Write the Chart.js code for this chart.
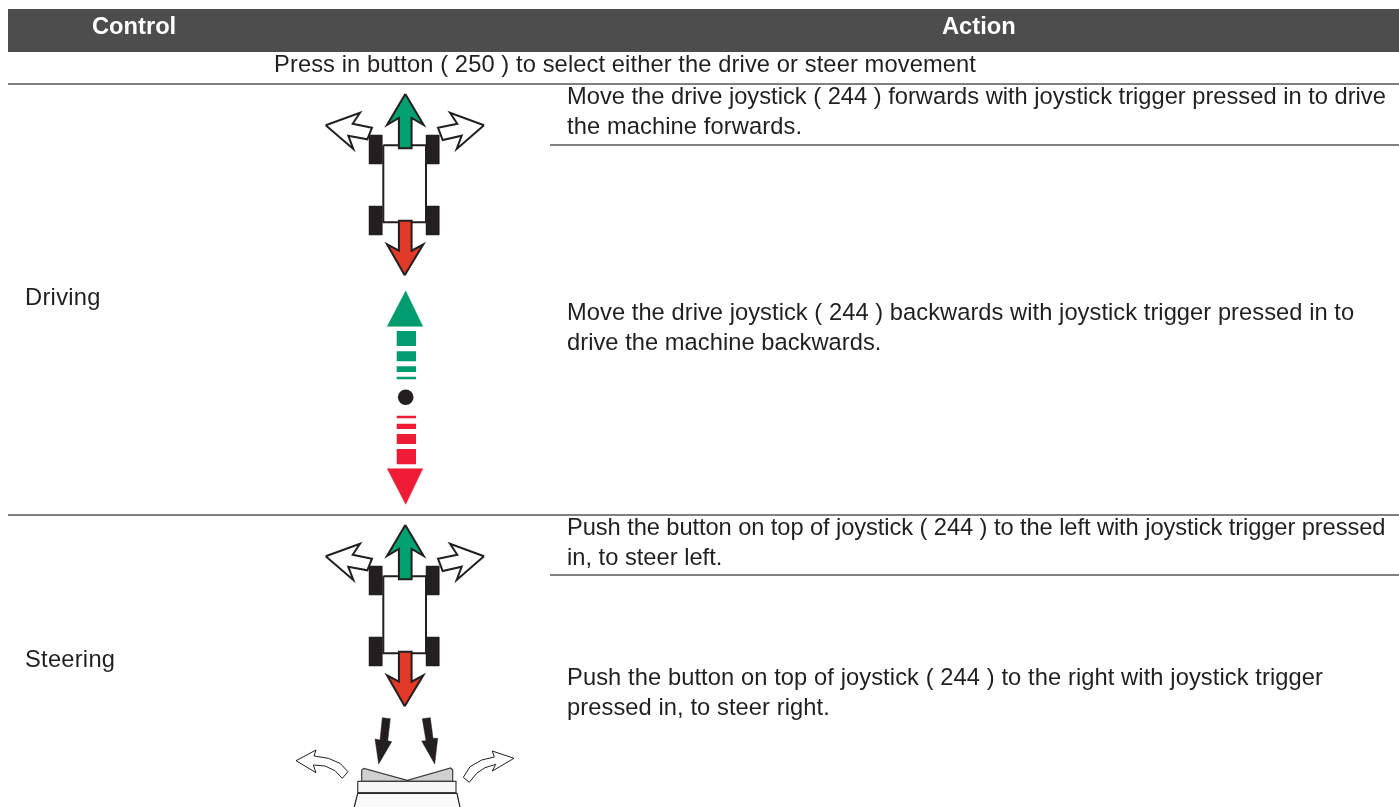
<!DOCTYPE html>
<html>
<head>
<meta charset="utf-8">
<script src="https://cdn.jsdelivr.net/npm/chart.js@4"></script>
<style>
  html, body { margin: 0; padding: 0; background: #fff; overflow: hidden; }
  #page { position: relative; width: 1399px; height: 807px; font-family: "Liberation Sans", Arial, sans-serif; font-size: 23.7px; color: #231f20; }
  #sheet { position: absolute; left: 0; top: 0; }
  .t { position: absolute; white-space: pre; line-height: 30px; }
  .band { position: absolute; left: 8px; top: 9px; width: 1391px; height: 43px; background: #4d4d4d; }
  .head { color: #fff; font-weight: bold; top: 11px; line-height: 30px; }
  .rule { position: absolute; height: 2px; background: #808080; right: 0; }
</style>
</head>
<body>
<div id="page">
  <div class="band"></div>
  <div class="rule" style="left:8px;top:83px"></div>
  <div class="rule" style="left:550px;top:144px"></div>
  <div class="rule" style="left:8px;top:514px"></div>
  <div class="rule" style="left:550px;top:574px"></div>
  <canvas id="sheet" width="1399" height="807"></canvas>
  <div class="t head" style="left:92px">Control</div>
  <div class="t head" style="left:942px">Action</div>
  <div class="t" style="left:274px;top:49px;letter-spacing:.1px">Press in button ( 250 ) to select either the drive or steer movement</div>
  <div class="t" style="left:567px;top:81px">Move the drive joystick ( 244 ) forwards with joystick trigger pressed in to drive</div>
  <div class="t" style="left:567px;top:111px;letter-spacing:.1px">the machine forwards.</div>
  <div class="t" style="left:25px;top:282px;letter-spacing:.3px">Driving</div>
  <div class="t" style="left:567px;top:297px;letter-spacing:.05px">Move the drive joystick ( 244 ) backwards with joystick trigger pressed in to</div>
  <div class="t" style="left:567px;top:327px;letter-spacing:.04px">drive the machine backwards.</div>
  <div class="t" style="left:567px;top:512px;letter-spacing:-.085px">Push the button on top of joystick ( 244 ) to the left with joystick trigger pressed</div>
  <div class="t" style="left:567px;top:542px">in, to steer left.</div>
  <div class="t" style="left:25px;top:644px;letter-spacing:.25px">Steering</div>
  <div class="t" style="left:567px;top:662px;letter-spacing:.09px">Push the button on top of joystick ( 244 ) to the right with joystick trigger</div>
  <div class="t" style="left:567px;top:692px;letter-spacing:.08px">pressed in, to steer right.</div>
</div>
<script>
// machine icon outlines, in page units
const arrowForward = [[405.3,94],[423.7,125],[411.6,118],[411.6,148.3],[398.9,148.3],[398.9,118],[387,125]];
const arrowBack = [[404.7,275.3],[387,244.3],[398.9,250.7],[398.9,220.7],[411.6,220.7],[411.6,250.7],[423.3,244.3]];
const arrowLeft = [[325.7,125.3],[360,112.7],[352.7,123.7],[372,127.7],[367.3,139.3],[348.3,135.7],[353.3,149]];
const arrowRight = [[484,125.3],[450,112.7],[457.3,123.7],[438,127.7],[442.7,140],[461.7,135.7],[456.7,149]];
const body = [[383.3,145.3],[426,145.3],[426,222.3],[383.3,222.3]];
const wheels = [
  [[369,135],[382,135],[382,164],[369,164]],
  [[426,135],[439,135],[439,164],[426,164]],
  [[369,206],[382,206],[382,235],[369,235]],
  [[426,206],[439,206],[439,235],[426,235]]
];

// drive indicator
const triangleUp = [[405.7,291],[422.7,326.3],[387.3,326.3]];
const triangleDown = [[405.7,504.3],[387.3,468.7],[422.7,468.7]];
const greenBars = [[331,346],[351.3,361.3],[366.3,372],[376.7,379.3]];
const redBars = [[415.7,418.3],[423.7,429],[434,444],[449,464.3]];
const dot = [[405.7,397.3]];

// rocker button
const pressLeft = [[382.3,717.7],[390.3,718.7],[387.7,740.7],[391.7,741.7],[378.7,764],[375,739],[380,740]];
const pressRight = [[422.3,718.7],[430.3,717.7],[433,738.3],[437.7,738.3],[434.7,764],[421.7,741],[426,740.7]];
const rockerTop = [[361.7,770],[364,768.3],[407.3,780.3],[450.7,768],[452.7,770],[452.7,781.3],[361.7,781.3]];
const rockerBand = [[357.7,781.3],[456,781.3],[456,792.7],[357.7,792.7]];
const rockerBase = [[357.7,793.3],[457,793.3],[461,812],[353,812]];
const tiltLeft = [[296,760.7],[316,750],[314,756],[328.3,758.3],[340,763.3],[348,771.7],[342.3,778.3],[335,770.7],[325,766],[313.3,765],[316,772.7]];
const tiltRight = [[514,758.3],[492.3,751],[494.3,757],[481.7,760],[470,766.7],[463.3,777.3],[469.3,782.3],[476.7,773.3],[485,767.7],[495.7,764.3],[492.3,771]];

const GREEN = "#00a06f";
const RED = "#e23a28";
const IND_GREEN = "#009b6e";
const IND_RED = "#ee1c34";
const INK = "#231f20";

const datasets = [];

function toPoints(shape, dy) {
  const pts = shape.map(p => ({ x: p[0], y: p[1] + dy }));
  pts.push(pts[0]);
  return pts;
}

function addShape(shape, fill, stroke, width, dy) {
  datasets.push({
    data: toPoints(shape, dy || 0),
    showLine: true,
    tension: 0,
    pointRadius: 0,
    fill: "shape",
    backgroundColor: fill,
    borderColor: stroke,
    borderWidth: width,
    borderJoinStyle: "miter"
  });
}

function addMachine(dy) {
  addShape(arrowLeft, "#fff", INK, 2, dy);
  addShape(arrowRight, "#fff", INK, 2, dy);
  wheels.forEach(w => addShape(w, INK, INK, 0.5, dy));
  addShape(body, "#fff", INK, 2, dy);
  addShape(arrowForward, GREEN, INK, 2, dy);
  addShape(arrowBack, RED, INK, 2, dy);
}

addMachine(0);
addMachine(431);

addShape(triangleUp, IND_GREEN, IND_GREEN, 0.5);
addShape(triangleDown, IND_RED, IND_RED, 0.5);
greenBars.forEach(b => addShape([[396.7,b[0]],[416,b[0]],[416,b[1]],[396.7,b[1]]], IND_GREEN, IND_GREEN, 0));
redBars.forEach(b => addShape([[396.7,b[0]],[416,b[0]],[416,b[1]],[396.7,b[1]]], IND_RED, IND_RED, 0));
datasets.push({
  data: dot.map(p => ({ x: p[0], y: p[1] })),
  pointRadius: 7.8,
  pointBackgroundColor: INK,
  pointBorderWidth: 0
});

addShape(pressLeft, INK, INK, 0.5);
addShape(pressRight, INK, INK, 0.5);
addShape(tiltLeft, "#fff", INK, 1);
addShape(tiltRight, "#fff", INK, 1);
addShape(rockerBase, "#fbfbfb", INK, 1.2);
addShape(rockerTop, "#d0d0d0", "#3c3c3c", 1.2);
addShape(rockerBand, "#f6f6f6", "#3c3c3c", 1.2);

// later shapes sit on top, chart.js paints the lowest order last
datasets.forEach((d, i) => { d.order = datasets.length - i; });

new Chart(document.getElementById("sheet"), {
  type: "scatter",
  data: { datasets },
  options: {
    responsive: false,
    animation: false,
    layout: { padding: 0, autoPadding: false },
    plugins: { legend: { display: false }, tooltip: { enabled: false } },
    scales: {
      x: { type: "linear", display: false, min: 0, max: 1399 },
      y: { type: "linear", display: false, min: 0, max: 807, reverse: true }
    }
  }
});
</script>
</body>
</html>
